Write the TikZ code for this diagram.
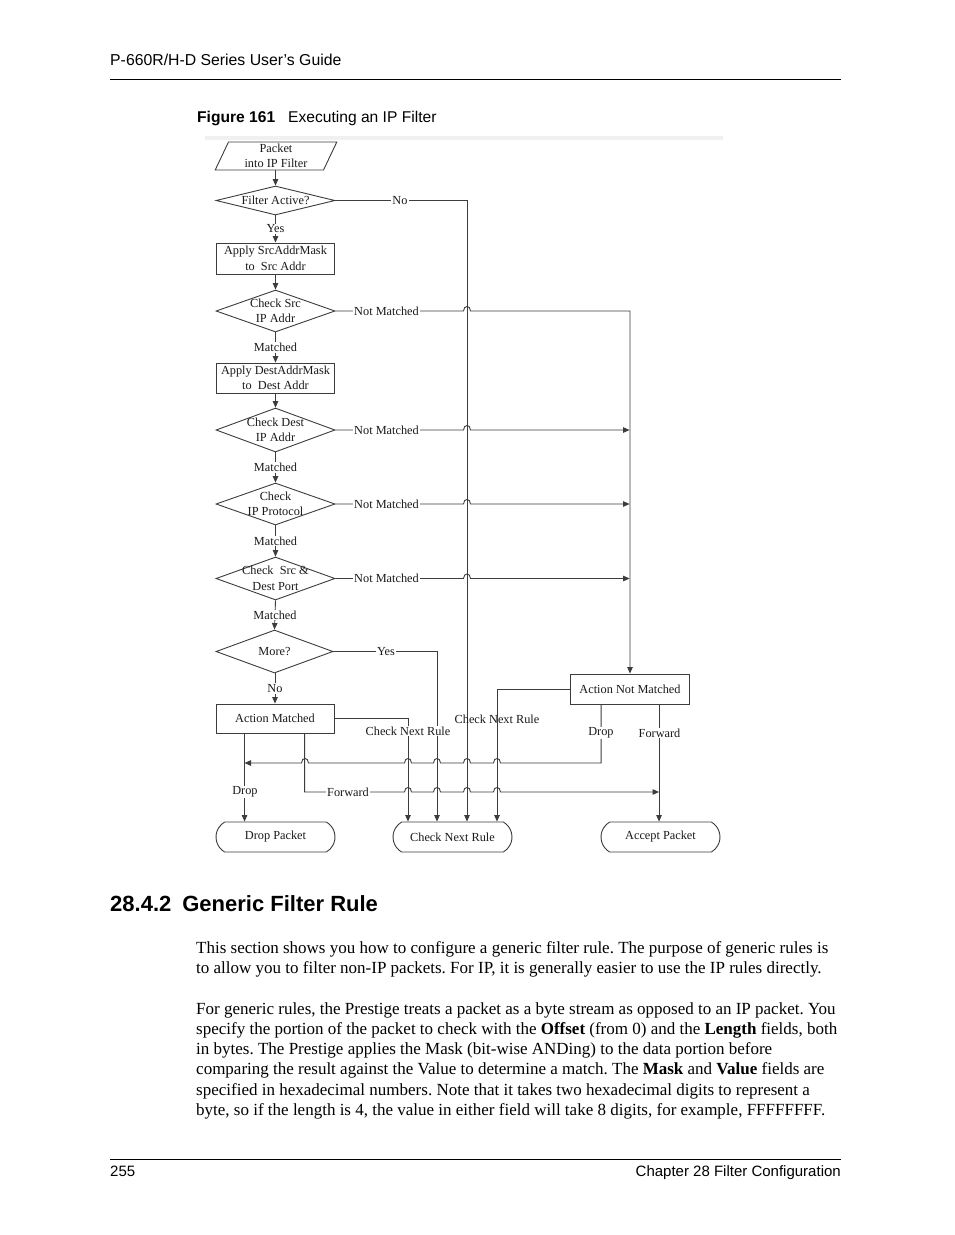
\documentclass[tikz,border=0pt]{standalone}
\usepackage{fontspec}
\setmainfont{Liberation Serif}
\newfontfamily\arialfont{Liberation Sans}
\usetikzlibrary{shapes.geometric,shapes.misc,arrows.meta,calc}
\definecolor{lc}{HTML}{3C3C3C}
\definecolor{tc}{HTML}{1A1A1A}
\newcommand\diagfont{\fontsize{12.3}{15.5}\selectfont}
\newcommand\bodyfont{\fontsize{17}{20.3}\selectfont}
\frenchspacing
\begin{document}
\begin{tikzpicture}[x=1pt,y=-1pt,
  conn/.style={draw=lc,line width=0.9pt},
  arr/.style={-{Triangle[length=6.5pt,width=5.5pt]}},
  shp/.style={draw=lc,line width=0.9pt,inner sep=0pt,font=\diagfont,text=tc,align=center},
  box/.style={shp,rectangle,minimum width=118pt,minimum height=#1},
  dia/.style={shp,diamond,minimum width=119pt,minimum height=#1},
  stad/.style={shp,rounded rectangle,rounded rectangle arc length=120,minimum width=119pt,minimum height=30pt},
  dtxt/.style={font=\diagfont,text=tc,align=center,inner sep=0pt},
  lbl/.style={font=\diagfont,text=tc,fill=white,inner sep=1pt},
  lblc/.style={font=\diagfont,text=tc,inner sep=1pt},
  jr/.style 2 args={insert path={-- (#1-3.5,#2) .. controls (#1-3.5,#2-6) and (#1+3.5,#2-6) .. (#1+3.5,#2)}},
  jl/.style 2 args={insert path={-- (#1+3.5,#2) .. controls (#1+3.5,#2-6) and (#1-3.5,#2-6) .. (#1-3.5,#2)}},
  ]
\useasboundingbox (0,0) rectangle (954,1235);
\fill[white] (0,0) rectangle (954,1235);

% page header
\node[anchor=base west,inner sep=0pt,font=\arialfont\fontsize{15.8}{18}\selectfont] (hdr) at (110,65.5) {P-660R/H-D Series User’s Guide};
\draw[line width=1pt] (110,79.5) -- (841,79.5);
\node[anchor=base west,inner sep=0pt,font=\arialfont\fontsize{15.6}{18}\selectfont] (cap) at (197,122) {\textbf{Figure 161}\hspace{13pt}Executing an IP Filter};

% faint top band of the figure
\fill[black!6] (205,136) rectangle (723,140);

% shapes
\node[shp,trapezium,trapezium left angle=70,trapezium right angle=110,trapezium stretches=true,minimum width=122pt,minimum height=28pt] (pk) at (276,156) {Packet\\into IP Filter};
\node[dia=29pt] (fa) at (275.5,200.5) {};
\node[box=31pt] (sm) at (275.5,258.5) {Apply SrcAddrMask\\to\ \ Src Addr};
\node[dia=42pt] (cs) at (275.5,311) {};
\node[box=30pt] (dm) at (275.5,378) {Apply DestAddrMask\\to\ \ Dest Addr};
\node[dia=44pt] (cd) at (275.5,430) {};
\node[dia=42pt] (cp) at (275.5,504) {};
\node[dia=43pt] (cport) at (275.5,578.5) {};
\node[dia=43pt,minimum width=117pt] (more) at (274.5,651.5) {};
\node[box=29pt] (am) at (275,718.5) {Action Matched};
\node[box=30pt,minimum width=119pt] (anm) at (630,689) {Action Not Matched};
\node[stad] (dp) at (275.5,837) {Drop Packet};
\node[stad] (cnr) at (452.5,837) {Check Next Rule};
\node[stad] (ap) at (660.5,837) {Accept Packet};

% diamond texts
\node[dtxt] (faT) at (fa) {Filter Active?};
\node[dtxt] (csT) at (cs) {Check Src\\IP Addr};
\node[dtxt] (cdT) at (cd) {Check Dest\\IP Addr};
\node[dtxt] (cpT) at (cp) {Check\\IP Protocol};
\node[dtxt] (cportT) at (cport) {Check\ \ Src \&\\Dest Port};
\node[dtxt] (moreT) at (more) {More?};

% helper coordinates
\coordinate (amD) at ($(am.south west)+(29,0)$);
\coordinate (amF) at ($(am.south west)+(89,0)$);
\coordinate (anmD) at ($(anm.south west)+(31,0)$);
\coordinate (anmF) at ($(anm.south west)+(89,0)$);

% main vertical flow
\draw[conn,arr] (pk.south -| fa.north) -- (fa.north);
\draw[conn,arr] (fa.south) -- node[lbl] (yes1) {Yes} (sm.north);
\draw[conn,arr] (sm.south) -- (cs.north);
\draw[conn,arr] (cs.south) -- node[lbl] (m1) {Matched} (dm.north);
\draw[conn,arr] (dm.south) -- (cd.north);
\draw[conn,arr] (cd.south) -- node[lbl] (m2) {Matched} (cp.north);
\draw[conn,arr] (cp.south) -- node[lbl] (m3) {Matched} (cport.north);
\draw[conn,arr] (cport.south) -- node[lbl] (m4) {Matched} (more.north);
\draw[conn,arr] (more.south -| am.north) -- node[lbl] (no2) {No} (am.north);

% "No" from Filter Active?
\draw[conn,arr] (fa.east) -- (467,200.5) -- (467,0 |- cnr.north);

% Not Matched lines
\draw[conn,arr] (cs.east) [jr={467}{311}] -- (630,311) -- (anm.north);
\draw[conn,arr] (cd.east) [jr={467}{430}] -- (629.6,430);
\draw[conn,arr] (cp.east) [jr={467}{504}] -- (629.6,504);
\draw[conn,arr] (cport.east) [jr={467}{578.5}] -- (629.6,578.5);

% More? Yes
\draw[conn,arr] (more.east) -- (437,651.5) -- (437,0 |- cnr.north);

% Action Matched -> Check Next Rule
\draw[conn,arr] (am.east) -- (408,718.5) -- (408,0 |- cnr.north);
% Action Not Matched -> Check Next Rule
\draw[conn,arr] (anm.west) -- (497,689) -- (497,0 |- cnr.north);

% Action Matched drop / forward
\draw[conn,arr] (amD) -- (amD |- dp.north);
\draw[conn,arr] (amF) -- (amF |- 0,792) [jr={408}{792}] [jr={437}{792}] [jr={467}{792}] [jr={497}{792}] -- (anmF |- 0,792);

% Action Not Matched drop / forward
\draw[conn,arr] (anmD) -- (anmD |- 0,763) [jl={497}{763}] [jl={467}{763}] [jl={437}{763}] [jl={408}{763}] [jl={305}{763}] -- (amD |- 0,763);
\draw[conn,arr] (anmF) -- (anmF |- ap.north);

% labels
\node[lbl] (noL) at (400,200.5) {No};
\node[lbl] (nm1) at (386.5,311) {Not Matched};
\node[lbl] (nm2) at (386.5,430) {Not Matched};
\node[lbl] (nm3) at (386.5,504) {Not Matched};
\node[lbl] (nm4) at (386.5,578.5) {Not Matched};
\node[lbl] (yes2) at (386,651.5) {Yes};
\node[lbl] (cnr1) at (408,731) {Check Next Rule};
\node[lblc] (cnr2) at (497,719) {Check Next Rule};
\node[lbl] (dropL) at (245,792) {Drop};
\node[lbl] (fwdL) at (348,792) {Forward};
\node[lbl] (dropR) at (601,733) {Drop};
\node[lbl] (fwdR) at (659.5,733) {Forward};

% section heading and body
\node[anchor=base west,inner sep=0pt,font=\arialfont\bfseries\fontsize{22}{26}\selectfont] (sec) at (110,911) {28.4.2\hspace{11pt}Generic Filter Rule};
\node[anchor=base west,inner sep=0pt,align=left,font=\bodyfont] (p1) at (196,973.5) {This section shows you how to configure a generic filter rule. The purpose of generic rules is\\to allow you to filter non-IP packets. For IP, it is generally easier to use the IP rules directly.};
\node[anchor=base west,inner sep=0pt,align=left,font=\bodyfont] (p2) at (196,1115.5) {For generic rules, the Prestige treats a packet as a byte stream as opposed to an IP packet. You\\specify the portion of the packet to check with the \textbf{Offset} (from 0) and the \textbf{Length} fields, both\\in bytes. The Prestige applies the Mask (bit-wise ANDing) to the data portion before\\comparing the result against the Value to determine a match. The \textbf{Mask} and \textbf{Value} fields are\\specified in hexadecimal numbers. Note that it takes two hexadecimal digits to represent a\\byte, so if the length is 4, the value in either field will take 8 digits, for example, FFFFFFFF.};

% footer
\draw[line width=1pt] (110,1159.5) -- (841,1159.5);
\node[anchor=base west,inner sep=0pt,font=\arialfont\fontsize{15}{18}\selectfont] (pg) at (110,1176.5) {255};
\node[anchor=base east,inner sep=0pt,font=\arialfont\fontsize{15}{18}\selectfont] (ch) at (841,1176.5) {Chapter 28 Filter Configuration};
\end{tikzpicture}
\end{document}
